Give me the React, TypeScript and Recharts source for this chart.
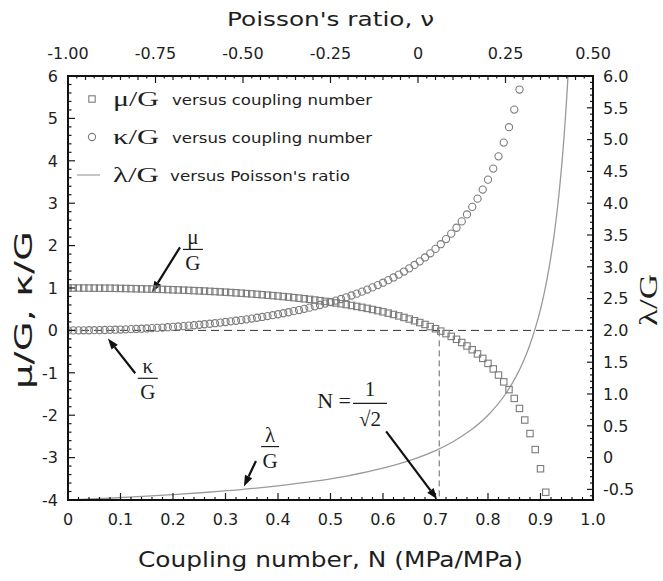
import React from 'react';
import {
  ComposedChart,
  Scatter,
  Line,
  XAxis,
  YAxis,
  ReferenceLine,
  ReferenceDot,
  Label,
} from 'recharts';

const FONT = "'DejaVu Sans', 'Open Sans', sans-serif";
const SERIF = "'Liberation Serif', 'DejaVu Serif', serif";
const INK = '#1e1e1e';
const MARK = '#7c7c7c';

// ---------- data ----------
const couplingN = [
  0, 0.01, 0.02, 0.03, 0.04, 0.05, 0.06, 0.07, 0.08, 0.09,
  0.1, 0.11, 0.12, 0.13, 0.14, 0.15, 0.16, 0.17, 0.18, 0.19,
  0.2, 0.21, 0.22, 0.23, 0.24, 0.25, 0.26, 0.27, 0.28, 0.29,
  0.3, 0.31, 0.32, 0.33, 0.34, 0.35, 0.36, 0.37, 0.38, 0.39,
  0.4, 0.41, 0.42, 0.43, 0.44, 0.45, 0.46, 0.47, 0.48, 0.49,
  0.5, 0.51, 0.52, 0.53, 0.54, 0.55, 0.56, 0.57, 0.58, 0.59,
  0.6, 0.61, 0.62, 0.63, 0.64, 0.65, 0.66, 0.67, 0.68, 0.69,
  0.7, 0.71, 0.72, 0.73, 0.74, 0.75, 0.76, 0.77, 0.78, 0.79,
  0.8, 0.81, 0.82, 0.83, 0.84, 0.85, 0.86, 0.87, 0.88, 0.89,
  0.9, 0.91,
];

const muOverG = [
  1.0, 1.0, 1.0, 0.999, 0.998, 0.997, 0.996, 0.995, 0.994, 0.992,
  0.99, 0.988, 0.985, 0.983, 0.98, 0.977, 0.974, 0.97, 0.967, 0.963,
  0.958, 0.954, 0.949, 0.944, 0.939, 0.933, 0.928, 0.921, 0.915, 0.908,
  0.901, 0.894, 0.886, 0.878, 0.869, 0.86, 0.851, 0.841, 0.831, 0.821,
  0.81, 0.798, 0.786, 0.773, 0.76, 0.746, 0.732, 0.716, 0.701, 0.684,
  0.667, 0.648, 0.629, 0.609, 0.588, 0.566, 0.543, 0.519, 0.493, 0.466,
  0.438, 0.407, 0.376, 0.342, 0.306, 0.268, 0.228, 0.185, 0.14, 0.091,
  0.039, -0.017, -0.076, -0.141, -0.21, -0.286, -0.367, -0.456, -0.554, -0.66,
  -0.778, -0.908, -1.053, -1.214, -1.397, -1.604, -1.84, -2.114, -2.433, -2.81,
  -3.263, -3.817,
];

const kappaOverG = [
  0, 0.0, 0.001, 0.002, 0.003, 0.005, 0.007, 0.01, 0.013, 0.016,
  0.02, 0.025, 0.029, 0.034, 0.04, 0.046, 0.053, 0.06, 0.067, 0.075,
  0.083, 0.092, 0.102, 0.112, 0.122, 0.133, 0.145, 0.157, 0.17, 0.184,
  0.198, 0.213, 0.228, 0.244, 0.261, 0.279, 0.298, 0.317, 0.338, 0.359,
  0.381, 0.404, 0.428, 0.454, 0.48, 0.508, 0.537, 0.567, 0.599, 0.632,
  0.667, 0.703, 0.741, 0.781, 0.823, 0.867, 0.914, 0.963, 1.014, 1.068,
  1.125, 1.185, 1.249, 1.316, 1.388, 1.463, 1.544, 1.629, 1.72, 1.818,
  1.922, 2.033, 2.153, 2.282, 2.421, 2.571, 2.735, 2.913, 3.107, 3.321,
  3.556, 3.816, 4.105, 4.429, 4.793, 5.207, 5.681,
];

const poissonNu = [
  -1.0, -0.95, -0.9, -0.8, -0.7, -0.6, -0.5, -0.4, -0.3, -0.2,
  -0.1, -0.05, 0, 0.05, 0.1, 0.15, 0.2, 0.25, 0.28, 0.3,
  0.32, 0.34, 0.35, 0.36, 0.37, 0.38, 0.39, 0.4, 0.41, 0.415,
  0.42, 0.425, 0.4286,
];

const lambdaOverG = [
  -0.667, -0.655, -0.643, -0.615, -0.583, -0.545, -0.5, -0.444, -0.375, -0.286,
  -0.167, -0.091, 0, 0.111, 0.25, 0.429, 0.667, 1.0, 1.273, 1.5,
  1.778, 2.125, 2.333, 2.571, 2.846, 3.167, 3.545, 4.0, 4.556, 4.882,
  5.25, 5.667, 6.0,
];

// tick labels
const bottomTicks = [0, 0.1, 0.2, 0.3, 0.4, 0.5, 0.6, 0.7, 0.8, 0.9, 1.0];
const topTicks = [-1.0, -0.75, -0.5, -0.25, 0, 0.25, 0.5];
const leftTicks = [-4, -3, -2, -1, 0, 1, 2, 3, 4, 5, 6];
const rightTicks = [-0.5, 0, 0.5, 1.0, 1.5, 2.0, 2.5, 3.0, 3.5, 4.0, 4.5, 5.0, 5.5, 6.0];

// legend entries
const legendRows = [
  { symbol: 'square', name: 'μ/G', text: 'versus coupling number' },
  { symbol: 'circle', name: 'κ/G', text: 'versus coupling number' },
  { symbol: 'line', name: 'λ/G', text: "versus Poisson's ratio" },
];

// annotation anchors (data coordinates: N, mu/G-kappa/G axis)
const criticalN = 0.7071;
const muArrow = [{ x: 0.2133, y: 1.96 }, { x: 0.16, y: 0.9 }];
const kappaArrow = [{ x: 0.128, y: -1.01 }, { x: 0.076, y: -0.19 }];
const lambdaArrow = [{ x: 0.358, y: -3.08 }, { x: 0.335, y: -3.68 }];
const nArrow = [{ x: 0.606, y: -2.38 }, { x: 0.703, y: -3.98 }];
const muLabelAt = { x: 0.238, y: 1.91 };
const kappaLabelAt = { x: 0.152, y: -1.13 };
const lambdaLabelAt = { x: 0.385, y: -2.74 };
const nLabelAt = { x: 0.5752, y: -1.72 };

// ---------- layout ----------
const W = 663;
const H = 581;
const AX_LEFT = 68;
const AX_RIGHT = 70;
const AX_TOP = 76;
const AX_BOTTOM = 81;
const PLOT = { x: AX_LEFT, y: AX_TOP, w: W - AX_LEFT - AX_RIGHT, h: H - AX_TOP - AX_BOTTOM };
const DOM_N: [number, number] = [0, 1];
const DOM_NU: [number, number] = [-1, 0.5];
const DOM_L: [number, number] = [-4, 6];
const DOM_R: [number, number] = [-0.6667, 6];

// ---------- derived tables ----------
const muData = couplingN.map((N, i) => ({ N, v: muOverG[i] }));
const kappaData = kappaOverG.map((v, i) => ({ N: couplingN[i], v }));
const lambdaData = poissonNu.map((nu, i) => ({ nu, v: lambdaOverG[i] }));

const steps = (a: number, b: number, s: number) => {
  const out: number[] = [];
  for (let i = 0; a + i * s <= b + 1e-9; i++) out.push(+(a + i * s).toFixed(4));
  return out;
};
const isOn = (v: number, step: number) => {
  const k = v / step;
  return Math.abs(k - Math.round(k)) < 1e-4;
};

const bottomAll = steps(0, 1, 0.02);
const topAll = steps(-1, 0.5, 0.025);
const leftAll = steps(-4, 6, 0.2);
const rightAll = steps(-0.6, 6, 0.1);

const fmtBottom = (v: number) => (v === 0 ? '0' : v.toFixed(1));
const fmtTop = (v: number) => (v === 0 ? '0' : v.toFixed(2));
const fmtLeft = (v: number) => String(Math.round(v));
const fmtRight = (v: number) => (Math.abs(v) < 1e-6 ? '0' : v.toFixed(1));

const TICK_FS = 16;
const M_BOTTOM = 14;
const M_TOP = 17;
const M_LEFT = 10;
const M_RIGHT = 10;
const TICK_STROKE = '#1a1a1a';

const tickLen = {
  bottom: (v: number) => (isOn(v, 0.1) ? 7 : 3),
  top: (v: number) => (isOn(v, 0.25) ? 7 : isOn(v, 0.05) ? 4 : 2.5),
  left: (v: number) => (isOn(v, 1) ? 7 : 3.5),
  right: (v: number) => (isOn(v, 0.5) ? 6 : 3),
};

const BottomTick = (p: any) => {
  const v = p.payload.value;
  if (!isOn(v, 0.1)) return <g />;
  return (
    <text x={p.x} y={p.y} dy="0.71em" textAnchor="middle" fontFamily={FONT} fontSize={TICK_FS} fill={INK}>
      {fmtBottom(v)}
    </text>
  );
};
const TopTick = (p: any) => {
  const v = p.payload.value;
  if (!isOn(v, 0.25)) return <g />;
  return (
    <text x={p.x} y={p.y} textAnchor="middle" fontFamily={FONT} fontSize={TICK_FS} fill={INK}>
      {fmtTop(v)}
    </text>
  );
};
const LeftTick = (p: any) => {
  const v = p.payload.value;
  if (!isOn(v, 1)) return <g />;
  return (
    <text x={p.x} y={p.y} dy="0.36em" textAnchor="end" fontFamily={FONT} fontSize={TICK_FS} fill={INK}>
      {fmtLeft(v)}
    </text>
  );
};
const RightTick = (p: any) => {
  const v = p.payload.value;
  if (!isOn(v, 0.5)) return <g />;
  return (
    <text x={p.x} y={p.y} dy="0.36em" textAnchor="start" fontFamily={FONT} fontSize={TICK_FS} fill={INK}>
      {fmtRight(v)}
    </text>
  );
};

// ---------- shapes ----------
const SquareShape = (p: any) => (
  <rect x={p.cx - 3.2} y={p.cy - 3.2} width={6.4} height={6.4} fill="none" stroke={MARK} strokeWidth={1.1} />
);
const CircleShape = (p: any) => (
  <circle cx={p.cx} cy={p.cy} r={3.6} fill="none" stroke={MARK} strokeWidth={1.1} />
);

const Arrow = (p: any) => {
  const { x1, y1, x2, y2 } = p;
  const a = Math.atan2(y2 - y1, x2 - x1);
  const L = 11;
  const Wd = 4;
  const bx = x2 - L * Math.cos(a);
  const by = y2 - L * Math.sin(a);
  const px = -Math.sin(a) * Wd;
  const py = Math.cos(a) * Wd;
  return (
    <g>
      <line x1={x1} y1={y1} x2={bx} y2={by} stroke="#111" strokeWidth={2.2} />
      <polygon points={`${x2},${y2} ${bx + px},${by + py} ${bx - px},${by - py}`} fill="#111" />
    </g>
  );
};

const fraction = (top: string, w: number) => (p: any) => (
  <g>
    <text x={p.cx} y={p.cy - 5} textAnchor="middle" fontFamily={SERIF} fontSize={21} fill={INK}>
      {top}
    </text>
    <line x1={p.cx - w / 2} x2={p.cx + w / 2} y1={p.cy} y2={p.cy} stroke={INK} strokeWidth={1.2} />
    <text x={p.cx} y={p.cy + 21} textAnchor="middle" fontFamily={SERIF} fontSize={21} fill={INK}>
      G
    </text>
  </g>
);

const NLabel = (p: any) => (
  <g fontFamily={SERIF} fill={INK}>
    <text x={p.cx - 19} y={p.cy + 5} textAnchor="end" fontSize={22}>
      N =
    </text>
    <text x={p.cx} y={p.cy - 7} textAnchor="middle" fontSize={21}>
      1
    </text>
    <line x1={p.cx - 17} x2={p.cx + 17} y1={p.cy} y2={p.cy} stroke={INK} strokeWidth={1.2} />
    <text x={p.cx} y={p.cy + 23} textAnchor="middle" fontSize={21}>
      √2
    </text>
  </g>
);

// ---------- titles ----------
const TopTitle = (props: any) => {
  const vb = props.viewBox;
  return (
    <text x={vb.x + vb.width / 2} y={26} textAnchor="middle" fontFamily={FONT} fontSize={20} fill={INK}
      textLength={207} lengthAdjust="spacingAndGlyphs">
      Poisson's ratio, ν
    </text>
  );
};
const BottomTitle = (props: any) => {
  const vb = props.viewBox;
  return (
    <text x={vb.x + vb.width / 2} y={vb.y + 67} textAnchor="middle" fontFamily={FONT} fontSize={22} fill={INK}
      textLength={385} lengthAdjust="spacingAndGlyphs">
      Coupling number, N (MPa/MPa)
    </text>
  );
};
const LeftTitle = () => {
  const cx = 24;
  const cy = 310;
  return (
    <text x={cx} y={cy} transform={`rotate(-90, ${cx}, ${cy})`} textAnchor="middle" dominantBaseline="central"
      fontFamily={FONT} fontSize={24} fill={INK} textLength={158} lengthAdjust="spacingAndGlyphs">
      μ/G, κ/G
    </text>
  );
};
const RightTitle = (props: any) => {
  const vb = props.viewBox;
  const cx = vb.x + 55;
  const cy = 300;
  return (
    <text x={cx} y={cy} transform={`rotate(-90, ${cx}, ${cy})`} textAnchor="middle" dominantBaseline="central"
      fontFamily={SERIF} fontSize={25} fill={INK} textLength={52} lengthAdjust="spacingAndGlyphs">
      λ/G
    </text>
  );
};

// ---------- frame + inward tick marks (decoration overlay, same axis layout as the chart) ----------
const lin = (dom: [number, number], r0: number, r1: number) => (v: number) =>
  r0 + ((v - dom[0]) / (dom[1] - dom[0])) * (r1 - r0);
const sxN = lin(DOM_N, PLOT.x, PLOT.x + PLOT.w);
const sxNu = lin(DOM_NU, PLOT.x, PLOT.x + PLOT.w);
const syL = lin(DOM_L, PLOT.y + PLOT.h, PLOT.y);
const syR = lin(DOM_R, PLOT.y + PLOT.h, PLOT.y);

const FrameOverlay = () => {
  const bottom = PLOT.y + PLOT.h;
  const right = PLOT.x + PLOT.w;
  return (
    <svg width={W} height={H} style={{ position: 'absolute', left: 0, top: 0, pointerEvents: 'none' }}>
      <g stroke={TICK_STROKE} strokeWidth={1.2}>
        {bottomAll.map((v) => (
          <line key={`b${v}`} x1={sxN(v)} x2={sxN(v)} y1={bottom} y2={bottom - tickLen.bottom(v)} />
        ))}
        {topAll.map((v) => (
          <line key={`t${v}`} x1={sxNu(v)} x2={sxNu(v)} y1={PLOT.y} y2={PLOT.y + tickLen.top(v)} />
        ))}
        {leftAll.map((v) => (
          <line key={`l${v}`} x1={PLOT.x} x2={PLOT.x + tickLen.left(v)} y1={syL(v)} y2={syL(v)} />
        ))}
        {rightAll.map((v) => (
          <line key={`r${v}`} x1={right} x2={right - tickLen.right(v)} y1={syR(v)} y2={syR(v)} />
        ))}
      </g>
      <rect x={PLOT.x} y={PLOT.y} width={PLOT.w} height={PLOT.h} fill="none" stroke="#111" strokeWidth={2} />
    </svg>
  );
};

// ---------- legend (overlay) ----------
const LegendOverlay = () => (
  <svg width={320} height={114} style={{ position: 'absolute', left: 70, top: 80, overflow: 'visible' }}>
    {legendRows.map((r, i) => {
      const cy = 19 + i * 38;
      return (
        <g key={r.name}>
          {r.symbol === 'square' && (
            <rect x={18.8} y={cy - 3.2} width={6.4} height={6.4} fill="none" stroke={MARK} strokeWidth={1.1} />
          )}
          {r.symbol === 'circle' && <circle cx={22} cy={cy} r={3.6} fill="none" stroke={MARK} strokeWidth={1.1} />}
          {r.symbol === 'line' && <line x1={7} x2={30} y1={cy} y2={cy} stroke="#a8a8a8" strokeWidth={1.3} />}
          <text x={43} y={cy + 7} fontFamily={SERIF} fontSize={21} fill={INK} textLength={46}
            lengthAdjust="spacingAndGlyphs">
            {r.name}
          </text>
          <text x={i === 2 ? 100 : 102} y={cy + 6} fontFamily={FONT} fontSize={14} fill={INK}
            textLength={i === 2 ? 180 : 200} lengthAdjust="spacingAndGlyphs">
            {r.text}
          </text>
        </g>
      );
    })}
  </svg>
);

export default function App() {
  return (
    <div style={{ position: 'absolute', left: 0, top: 0, width: W, height: H, background: '#fff' }}>
      <ComposedChart width={W} height={H} margin={{ top: 0, right: 0, bottom: 0, left: 0 }}>
        <XAxis xAxisId="N" dataKey="N" type="number" orientation="bottom" domain={DOM_N} allowDataOverflow
          ticks={bottomAll} height={AX_BOTTOM} tickLine={false} tickSize={0} tickMargin={M_BOTTOM}
          axisLine={false} tick={BottomTick} interval={0}>
          <Label content={BottomTitle} />
        </XAxis>
        <XAxis xAxisId="nu" dataKey="nu" type="number" orientation="top" domain={DOM_NU} allowDataOverflow
          ticks={topAll} height={AX_TOP} tickLine={false} tickSize={0} tickMargin={M_TOP}
          axisLine={false} tick={TopTick} interval={0}>
          <Label content={TopTitle} />
        </XAxis>
        <YAxis yAxisId="L" dataKey="v" type="number" orientation="left" domain={DOM_L} allowDataOverflow
          ticks={leftAll} width={AX_LEFT} tickLine={false} tickSize={0} tickMargin={M_LEFT}
          axisLine={false} tick={LeftTick} interval={0}>
          <Label content={LeftTitle} />
        </YAxis>
        <YAxis yAxisId="R" dataKey="v" type="number" orientation="right" domain={DOM_R} allowDataOverflow
          ticks={rightAll} width={AX_RIGHT} tickLine={false} tickSize={0} tickMargin={M_RIGHT}
          axisLine={false} tick={RightTick} interval={0}>
          <Label content={RightTitle} />
        </YAxis>

        {/* guide lines */}
        <ReferenceLine xAxisId="N" yAxisId="L" y={0} stroke="#333" strokeWidth={1} strokeDasharray="8 5" />
        <ReferenceLine xAxisId="N" yAxisId="L" segment={[{ x: criticalN, y: 0 }, { x: criticalN, y: -4 }]}
          stroke="#666" strokeWidth={1} strokeDasharray="6 4" ifOverflow="visible" />

        {/* series */}
        <Line xAxisId="nu" yAxisId="R" data={lambdaData} dataKey="v" type="monotone" stroke="#9a9a9a"
          strokeWidth={1.3} dot={false} activeDot={false} isAnimationActive={false} />
        <Scatter xAxisId="N" yAxisId="L" data={muData} dataKey="v" shape={SquareShape} isAnimationActive={false} />
        <Scatter xAxisId="N" yAxisId="L" data={kappaData} dataKey="v" shape={CircleShape} isAnimationActive={false} />

        {/* annotations */}
        <ReferenceLine xAxisId="N" yAxisId="L" segment={muArrow} shape={Arrow} ifOverflow="visible" />
        <ReferenceLine xAxisId="N" yAxisId="L" segment={kappaArrow} shape={Arrow} ifOverflow="visible" />
        <ReferenceLine xAxisId="N" yAxisId="L" segment={lambdaArrow} shape={Arrow} ifOverflow="visible" />
        <ReferenceLine xAxisId="N" yAxisId="L" segment={nArrow} shape={Arrow} ifOverflow="visible" />
        <ReferenceDot xAxisId="N" yAxisId="L" x={muLabelAt.x} y={muLabelAt.y} shape={fraction('μ', 20)} />
        <ReferenceDot xAxisId="N" yAxisId="L" x={kappaLabelAt.x} y={kappaLabelAt.y} shape={fraction('κ', 20)} />
        <ReferenceDot xAxisId="N" yAxisId="L" x={lambdaLabelAt.x} y={lambdaLabelAt.y} shape={fraction('λ', 18)} />
        <ReferenceDot xAxisId="N" yAxisId="L" x={nLabelAt.x} y={nLabelAt.y} shape={NLabel} />
      </ComposedChart>
      <FrameOverlay />
      <LegendOverlay />
    </div>
  );
}
